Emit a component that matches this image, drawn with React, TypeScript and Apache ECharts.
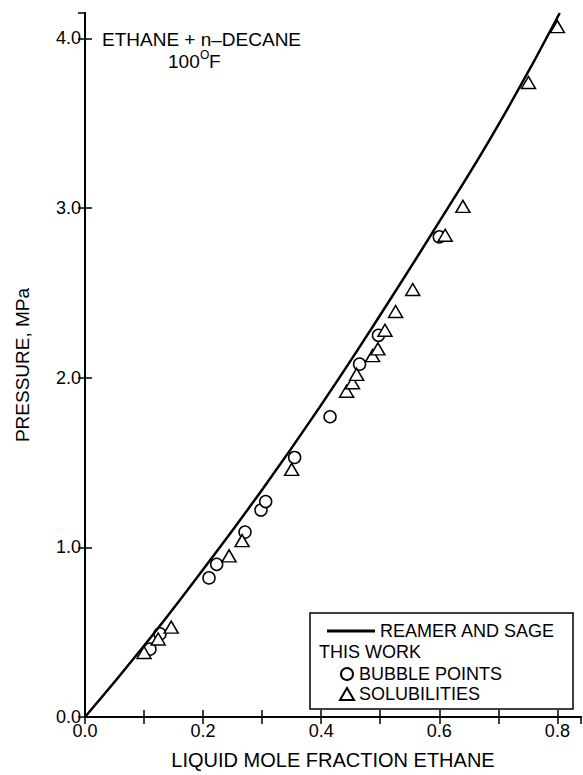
import React, { useEffect, useRef } from "react";
import * as echarts from "echarts";

// Reamer and Sage smoothed curve
const curveX = [0, 0.1, 0.2, 0.3, 0.4, 0.5, 0.6, 0.7, 0.804];
const curveY = [0, 0.42, 0.87, 1.34, 1.84, 2.37, 2.92, 3.49, 4.15];

// This work: bubble points (circles)
const bubbleX = [0.11, 0.127, 0.21, 0.223, 0.271, 0.298, 0.306, 0.355, 0.415, 0.465, 0.497, 0.6];
const bubbleY = [0.4, 0.49, 0.82, 0.9, 1.09, 1.22, 1.27, 1.53, 1.77, 2.08, 2.25, 2.83];

// This work: solubilities (triangles)
const solX = [0.1, 0.124, 0.146, 0.244, 0.266, 0.35, 0.443, 0.453, 0.46, 0.487, 0.496, 0.508, 0.526, 0.555, 0.61, 0.64, 0.751, 0.8];
const solY = [0.38, 0.46, 0.53, 0.95, 1.04, 1.46, 1.92, 1.97, 2.02, 2.13, 2.17, 2.28, 2.39, 2.52, 2.84, 3.01, 3.74, 4.07];

const xMin = 0;
const xMax = 0.84;
const xInterval = 0.1;
const yMin = 0;
const yMax = 4.15;
const yInterval = 1;

const FONT = "'Liberation Sans', Arial, Helvetica, sans-serif";

const zip = (a: number[], b: number[]) => a.map((v, i) => [v, b[i]]);

export default function App() {
  const ref = useRef<HTMLDivElement>(null);
  useEffect(() => {
    if (!ref.current) return;
    const chart = echarts.init(ref.current, undefined, { renderer: "svg" });
    const axisLine = { show: true, lineStyle: { color: "#000", width: 2 } };
    const tick = (show: boolean) => ({
      show,
      inside: true,
      length: 7,
      lineStyle: { color: "#000", width: 1.5 },
    });
    const xFmt = (v: number) => {
      const t = v * 10;
      if (Math.abs(t - Math.round(t)) > 1e-6) return "";
      return Math.round(t) % 2 === 0 ? v.toFixed(1) : "";
    };
    const yFmt = (v: number) => (Math.abs(v - Math.round(v)) < 1e-6 ? v.toFixed(1) : "");
    chart.setOption({
      animation: false,
      backgroundColor: "#fff",
      textStyle: { fontFamily: FONT, color: "#000" },
      grid: { left: 85, top: 13, right: 2, bottom: 53, containLabel: false },
      xAxis: [
        {
          type: "value",
          position: "bottom",
          min: xMin,
          max: xMax,
          interval: xInterval,
          splitLine: { show: false },
          axisLine,
          axisTick: tick(true),
          axisLabel: {
            formatter: xFmt,
            fontSize: 18,
            color: "#000",
            fontFamily: FONT,
            margin: 5,
            showMaxLabel: false,
          },
          name: "LIQUID MOLE FRACTION ETHANE",
          nameLocation: "middle",
          nameGap: 33,
          nameTextStyle: { fontSize: 20, color: "#000", fontFamily: FONT },
        },
        {
          type: "value",
          position: "top",
          min: xMin,
          max: xMax,
          interval: xInterval,
          splitLine: { show: false },
          axisLine,
          axisTick: tick(true),
          axisLabel: { show: false },
        },
      ],
      yAxis: [
        {
          type: "value",
          position: "left",
          min: yMin,
          max: yMax,
          interval: yInterval,
          splitLine: { show: false },
          axisLine,
          axisTick: tick(true),
          axisLabel: {
            formatter: yFmt,
            fontSize: 18,
            color: "#000",
            fontFamily: FONT,
            margin: 4,
            showMaxLabel: false,
          },
          name: "PRESSURE, MPa",
          nameLocation: "middle",
          nameGap: 53,
          nameTextStyle: { fontSize: 19, color: "#000", fontFamily: FONT },
        },
        {
          type: "value",
          position: "right",
          min: yMin,
          max: yMax,
          interval: yInterval,
          splitLine: { show: false },
          axisLine,
          axisTick: tick(true),
          axisLabel: { show: false },
        },
      ],
      legend: [
        {
          data: [{ name: "REAMER AND SAGE", icon: "rect" }],
          left: 322,
          top: 617,
          itemWidth: 48,
          itemHeight: 3,
          textStyle: { fontSize: 18, color: "#000", fontFamily: FONT },
          selectedMode: false,
        },
        {
          data: ["BUBBLE POINTS", "SOLUBILITIES"],
          orient: "vertical",
          left: 334,
          top: 660,
          itemWidth: 14,
          itemHeight: 12,
          itemGap: 2,
          textStyle: { fontSize: 18, color: "#000", fontFamily: FONT },
          selectedMode: false,
        },
      ],
      graphic: [
        {
          type: "rect",
          shape: { x: 310, y: 613, width: 263, height: 96 },
          style: { fill: "#fff", stroke: "#000", lineWidth: 1.5 },
          z: 3,
        },
        {
          type: "text",
          x: 319,
          y: 652,
          z: 5,
          style: { text: "THIS WORK", font: `18px ${FONT}`, fill: "#000", verticalAlign: "middle" },
        },
        {
          type: "text",
          x: 102,
          y: 39,
          z: 5,
          style: { text: "ETHANE + n\u2013DECANE", font: `19px ${FONT}`, fill: "#000", verticalAlign: "middle" },
        },
        {
          type: "text",
          x: 168,
          y: 61,
          z: 5,
          style: { text: "100", font: `19px ${FONT}`, fill: "#000", verticalAlign: "middle" },
        },
        {
          type: "text",
          x: 200,
          y: 55,
          z: 5,
          style: { text: "O", font: `12px ${FONT}`, fill: "#000", verticalAlign: "middle" },
        },
        {
          type: "text",
          x: 209,
          y: 61,
          z: 5,
          style: { text: "F", font: `19px ${FONT}`, fill: "#000", verticalAlign: "middle" },
        },
      ],
      series: [
        {
          name: "REAMER AND SAGE",
          type: "line",
          data: zip(curveX, curveY),
          smooth: true,
          symbol: "none",
          lineStyle: { color: "#000", width: 2.5 },
          itemStyle: { color: "#000" },
          xAxisIndex: 0,
          yAxisIndex: 0,
        },
        {
          name: "BUBBLE POINTS",
          type: "scatter",
          data: zip(bubbleX, bubbleY),
          symbol: "circle",
          symbolSize: 12,
          itemStyle: { color: "#fff", borderColor: "#000", borderWidth: 1.5, opacity: 1 },
          xAxisIndex: 0,
          yAxisIndex: 0,
        },
        {
          name: "SOLUBILITIES",
          type: "scatter",
          data: zip(solX, solY),
          symbol: "triangle",
          symbolSize: [14, 12],
          itemStyle: { color: "#fff", borderColor: "#000", borderWidth: 1.5, opacity: 1 },
          xAxisIndex: 0,
          yAxisIndex: 0,
        },
      ],
    });
    return () => chart.dispose();
  }, []);
  return <div ref={ref} style={{ width: 583, height: 775, position: "absolute", left: 0, top: 0 }} />;
}
